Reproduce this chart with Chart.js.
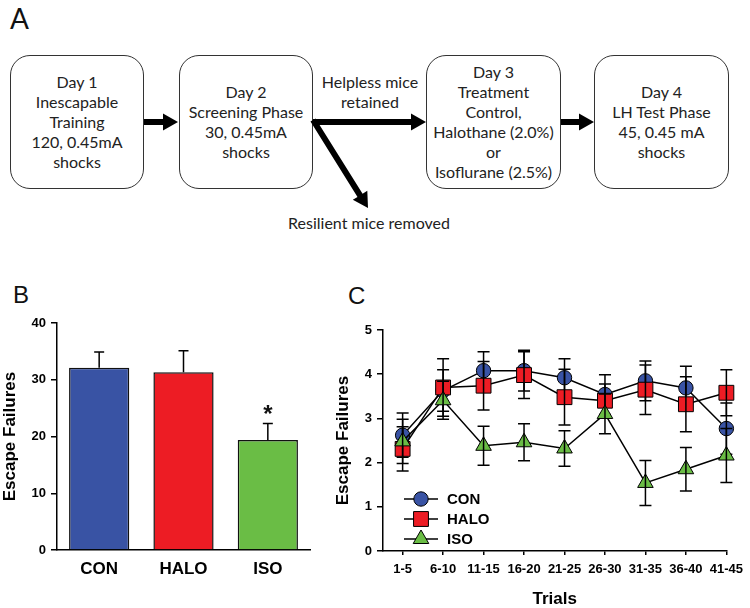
<!DOCTYPE html>
<html>
<head>
<meta charset="utf-8">
<script src="https://cdn.jsdelivr.net/npm/chart.js@4/dist/chart.umd.min.js"></script>
<style>
  body { margin: 0; background: #fff; }
  #page { position: relative; width: 750px; height: 608px; overflow: hidden; font-family: Lato, "Open Sans", sans-serif; color: #222; }
  .panel { position: absolute; font-family: "Liberation Sans", Arial, sans-serif; font-size: 24px; color: #111; }
  .box { position: absolute; top: 55px; height: 134px; border: 1.3px solid #333; border-radius: 20px; box-sizing: border-box;
         display: flex; align-items: center; justify-content: center; text-align: center; font-size: 16px; line-height: 20px; color: #222; }
  .note { position: absolute; text-align: center; font-size: 16px; line-height: 20px; color: #222; white-space: nowrap; }
  canvas { position: absolute; }
</style>
</head>
<body>
<div id="page">
  <div class="panel" style="left:10px; top:1px; font-family: Lato, sans-serif; font-size:28px;">A</div>

  <div class="box" style="left:10px; width:134px;">Day 1<br>Inescapable<br>Training<br>120, 0.45mA<br>shocks</div>
  <div class="box" style="left:179px; width:134px;">Day 2<br>Screening Phase<br>30, 0.45mA<br>shocks</div>
  <div class="box" style="left:426px; width:135px;">Day 3<br>Treatment<br>Control,<br>Halothane (2.0%)<br>or<br>Isoflurane (2.5%)</div>
  <div class="box" style="left:594px; width:135px;">Day 4<br>LH Test Phase<br>45, 0.45 mA<br>shocks</div>

  <div class="note" style="left:300px; width:140px; top:72px;">Helpless mice<br>retained</div>
  <div class="note" style="left:269px; width:200px; top:213px;">Resilient mice removed</div>

  <svg id="arrows" width="750" height="260" style="position:absolute; left:0; top:0;"></svg>

  <div class="panel" style="left:13px; top:281px;">B</div>
  <div class="panel" style="left:348px; top:282px;">C</div>

  <canvas id="chartB" width="320" height="328" style="left:0; top:280px;"></canvas>
  <canvas id="chartC" width="430" height="328" style="left:320px; top:280px;"></canvas>
</div>

<script>
// ---- data: panel B (total escape failures) ----
const groups = ['CON', 'HALO', 'ISO'];
const failMeans = [32.1, 31.3, 19.4];
const failSem = [2.8, 3.8, 2.9];
const sigMarks = ['', '', '*'];

// ---- data: panel C (escape failures per block of 5 trials) ----
const trialBins = ['1-5', '6-10', '11-15', '16-20', '21-25', '26-30', '31-35', '36-40', '41-45'];
const conTrials = [2.62, 3.63, 4.08, 4.08, 3.92, 3.54, 3.85, 3.69, 2.77];
const conErr = [0.50, 0.47, 0.43, 0.46, 0.43, 0.45, 0.45, 0.49, 0.58];
const haloTrials = [2.31, 3.70, 3.74, 3.98, 3.48, 3.40, 3.65, 3.32, 3.58];
const haloErr = [0.50, 0.65, 0.55, 0.53, 0.63, 0.38, 0.56, 0.62, 0.52];
const isoTrials = [2.48, 3.41, 2.38, 2.46, 2.32, 3.10, 1.54, 1.85, 2.16];
const isoErr = [0.50, 0.43, 0.44, 0.42, 0.40, 0.45, 0.51, 0.49, 0.61];

const groupColors = ['#3953a4', '#ed1c24', '#6abd45'];

// ---- flowchart arrows (panel A) ----
function arrow(x1, y1, x2, y2) {
    const dx = x2 - x1, dy = y2 - y1;
    const len = Math.hypot(dx, dy);
    const ux = dx / len, uy = dy / len, nx = -uy, ny = ux;
    const head = 15, hw = 8.5, sw = 3;
    const bx = x2 - ux * head, by = y2 - uy * head;
    const pts = [
        [x1 + nx * sw, y1 + ny * sw], [bx + nx * sw, by + ny * sw], [bx + nx * hw, by + ny * hw],
        [x2, y2],
        [bx - nx * hw, by - ny * hw], [bx - nx * sw, by - ny * sw], [x1 - nx * sw, y1 - ny * sw]
    ];
    return '<polygon fill="#000" points="' + pts.map(p => p[0].toFixed(1) + ',' + p[1].toFixed(1)).join(' ') + '"/>';
}
document.getElementById('arrows').innerHTML =
    arrow(144, 122, 178, 122) +
    arrow(313, 122, 426, 122) +
    arrow(313, 120, 368, 208) +
    arrow(561, 122, 594, 122);

// ---- error bar plugin ----
const errorBars = {
    id: 'errorBars',
    afterDatasetDraw(chart, args, opts) {
        const ds = chart.data.datasets[args.index];
        if (!ds.errors) return;
        const ctx = chart.ctx;
        const yScale = chart.scales.y;
        const meta = args.meta;
        ctx.save();
        ctx.strokeStyle = '#000';
        ctx.lineWidth = 1.5;
        meta.data.forEach((el, i) => {
            const v = typeof ds.data[i] === 'object' ? ds.data[i].y : ds.data[i];
            const top = yScale.getPixelForValue(v + ds.errors[i]);
            const bot = opts.upOnly ? el.y : yScale.getPixelForValue(v - ds.errors[i]);
            const cap = opts.cap;
            ctx.beginPath();
            ctx.moveTo(el.x, top); ctx.lineTo(el.x, bot);
            ctx.moveTo(el.x - cap, top); ctx.lineTo(el.x + cap, top);
            if (!opts.upOnly) { ctx.moveTo(el.x - cap, bot); ctx.lineTo(el.x + cap, bot); }
            ctx.stroke();
            if (ds.marks && ds.marks[i]) {
                ctx.fillStyle = '#111';
                ctx.font = 'bold 24px "Liberation Sans", Arial';
                ctx.textAlign = 'center';
                ctx.textBaseline = 'alphabetic';
                ctx.fillText(ds.marks[i], el.x, top - 1);
            }
        });
        ctx.restore();
    }
};

const tickFont = { family: '"Liberation Sans", Arial', size: 13, weight: 'bold' };
const titleFont = { family: '"Liberation Sans", Arial', size: 17, weight: 'bold' };

// ---- panel B ----
new Chart(document.getElementById('chartB'), {
    type: 'bar',
    data: {
        labels: groups,
        datasets: [{
            data: failMeans,
            errors: failSem,
            marks: sigMarks,
            backgroundColor: groupColors,
            borderColor: '#111',
            borderWidth: 1.5,
            barPercentage: 0.714,
            categoryPercentage: 1
        }]
    },
    options: {
        responsive: false,
        animation: false,
        layout: { padding: { top: 43, right: 10, left: 0, bottom: 0 } },
        plugins: { legend: { display: false }, tooltip: { enabled: false }, errorBars: { upOnly: true, cap: 5 } },
        scales: {
            x: {
                offset: true,
                grid: { display: true, drawOnChartArea: false, drawTicks: false },
                border: { color: '#000', width: 1.5 },
                ticks: { color: '#000', font: { family: '"Liberation Sans", Arial', size: 17, weight: 'bold' }, padding: 9 },
                afterFit: s => { s.height = 58; }
            },
            y: {
                min: 0,
                max: 40,
                ticks: { stepSize: 10, color: '#000', font: tickFont, padding: 5 },
                grid: { drawOnChartArea: false, tickLength: 6, color: '#000', lineWidth: 1.5 },
                border: { color: '#000', width: 1.5 },
                title: { display: true, text: 'Escape Failures', color: '#000', font: titleFont, padding: 0 },
                afterFit: s => { s.width = 57; }
            }
        }
    },
    plugins: [errorBars]
});

// ---- panel C ----
const pts = arr => arr.map((v, i) => ({ x: i, y: v }));
const legendInside = {
    id: 'legendInside',
    afterDraw(chart) {
        const ctx = chart.ctx;
        const area = chart.chartArea;
        ctx.save();
        chart.data.datasets.forEach((ds, i) => {
            const y = area.bottom - 52 + i * 20;
            const x0 = area.left + 21, x1 = area.left + 55, xm = (x0 + x1) / 2;
            ctx.strokeStyle = '#000';
            ctx.lineWidth = 1.5;
            ctx.beginPath(); ctx.moveTo(x0, y); ctx.lineTo(x1, y); ctx.stroke();
            ctx.fillStyle = ds.pointBackgroundColor;
            ctx.lineWidth = 1;
            Chart.helpers.drawPoint(ctx, { pointStyle: ds.pointStyle, radius: ds.pointRadius, rotation: 0, borderWidth: 1 }, xm, y);
            ctx.fillStyle = '#000';
            ctx.font = 'bold 15px "Liberation Sans", Arial';
            ctx.textAlign = 'left';
            ctx.textBaseline = 'middle';
            ctx.fillText(ds.label, area.left + 64, y + 1);
        });
        ctx.restore();
    }
};

function series(label, values, errs, color, style, radius, order) {
    return {
        label: label,
        data: pts(values),
        errors: errs,
        borderColor: '#000',
        borderWidth: 1.5,
        pointStyle: style,
        pointRadius: radius,
        pointBackgroundColor: color,
        pointBorderColor: '#000',
        pointBorderWidth: 1,
        tension: 0,
        clip: false,
        order: order
    };
}

new Chart(document.getElementById('chartC'), {
    type: 'line',
    data: {
        datasets: [
            series('CON', conTrials, conErr, groupColors[0], 'circle', 7.2, 3),
            series('HALO', haloTrials, haloErr, groupColors[1], 'rect', 10.5, 2),
            series('ISO', isoTrials, isoErr, groupColors[2], 'triangle', 9, 1)
        ]
    },
    options: {
        responsive: false,
        animation: false,
        layout: { padding: { top: 50, right: 18, left: 13, bottom: 0 } },
        plugins: { legend: { display: false }, tooltip: { enabled: false }, errorBars: { upOnly: false, cap: 6 } },
        scales: {
            x: {
                type: 'linear',
                min: -0.485,
                max: 8,
                afterBuildTicks: s => { s.ticks = trialBins.map((_, i) => ({ value: i })); },
                ticks: { color: '#000', font: tickFont, padding: 7, autoSkip: false, maxRotation: 0, callback: v => trialBins[v] },
                grid: { drawOnChartArea: false, tickLength: 4, color: '#000', lineWidth: 1.5 },
                border: { color: '#000', width: 1.5 },
                title: { display: true, text: 'Trials', color: '#000', font: { family: '"Liberation Sans", Arial', size: 17, weight: 'bold', lineHeight: 1 }, padding: 0 },
                afterFit: s => { s.height = 57; }
            },
            y: {
                min: 0,
                max: 5,
                ticks: { stepSize: 1, color: '#000', font: tickFont, padding: 5 },
                grid: { drawOnChartArea: false, tickLength: 6, color: '#000', lineWidth: 1.5 },
                border: { color: '#000', width: 1.5 },
                title: { display: true, text: 'Escape Failures', color: '#000', font: titleFont, padding: 0 },
                afterFit: s => { s.width = 50; }
            }
        }
    },
    plugins: [errorBars, legendInside]
});
</script>
</body>
</html>
